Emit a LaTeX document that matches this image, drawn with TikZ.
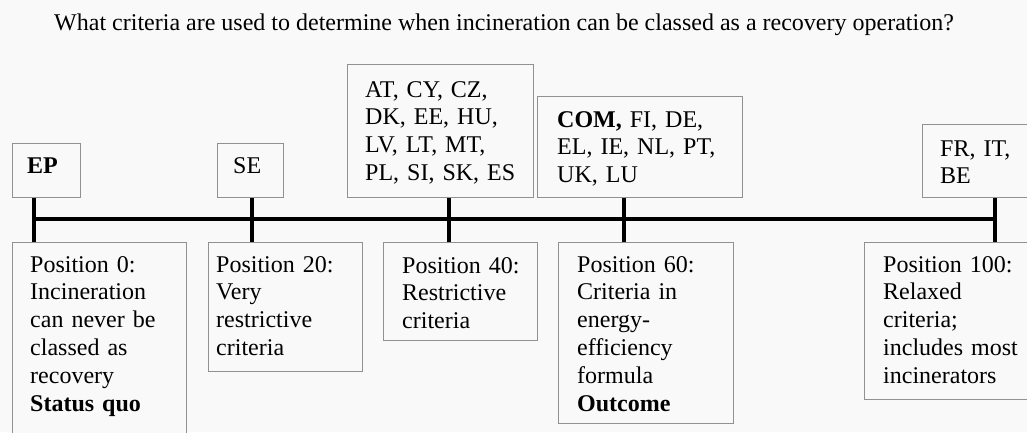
\documentclass[tikz,border=0pt]{standalone}
\usepackage{fontspec}
\setmainfont{Liberation Serif}
\definecolor{paper}{RGB}{249,249,249}
\definecolor{boxline}{RGB}{145,145,145}
\tikzstyle{box}=[draw=boxline, fill=paper, line width=1pt, inner sep=0pt, anchor=north west]
\tikzstyle{box text}=[anchor=base west, inner sep=0pt, text width=200pt, align=left, font=\fontsize{24}{27.8}\selectfont]
\tikzstyle{tick}=[line width=4pt]

\begin{document}
\begin{tikzpicture}[x=1pt, y=-1pt]
  \fill[paper] (0,0) rectangle (1027,432);
  \useasboundingbox (0,0) rectangle (1027,432);
  \clip (0,0) rectangle (1027,432);
  \node[anchor=base, inner sep=0pt, font=\fontsize{24}{28}\selectfont] (question) at (504,30)
    {What criteria are used to determine when incineration can be classed as a recovery operation?};

  % points on the scale
  \coordinate (p0) at (34,219);
  \coordinate (p20) at (252,219);
  \coordinate (p40) at (449,219);
  \coordinate (p60) at (624,219);
  \coordinate (p100) at (995,219);

  % countries above the scale
  \node[box, minimum width=68pt, minimum height=54pt] (ep) at (12,143) {};
  \node[box, minimum width=66pt, minimum height=54pt] (se) at (217,143) {};
  \node[box, minimum width=186pt, minimum height=133pt] (at) at (347,64) {};
  \node[box, minimum width=205pt, minimum height=101pt] (com) at (537,96) {};
  \node[box, minimum width=120pt, minimum height=73pt] (fr) at (922,124) {};
  \node[box text] at (27,173) {\textbf{EP}};
  \node[box text] at (233,173) {SE};
  \node[box text] at (365,97) {AT, CY, CZ,\\ DK, EE, HU,\\ LV, LT, MT,\\ PL, SI, SK, ES};
  \node[box text] at (557,127) {\textbf{COM,} FI, DE,\\ EL, IE, NL, PT,\\ UK, LU};
  \node[box text] at (940,156) {FR, IT,\\ BE};

  % positions below the scale
  \node[box, minimum width=174pt, minimum height=200pt] (pos0) at (12,242) {};
  \node[box, minimum width=154pt, minimum height=129pt] (pos20) at (208,242) {};
  \node[box, minimum width=154pt, minimum height=98pt] (pos40) at (383,242) {};
  \node[box, minimum width=175pt, minimum height=181pt] (pos60) at (558,242) {};
  \node[box, minimum width=175pt, minimum height=157pt] (pos100) at (864,242) {};
  \node[box text] at (30,272) {Position 0:\\ Incineration\\ can never be\\ classed as\\ recovery\\ \textbf{Status quo}};
  \node[box text] at (216,272) {Position 20:\\ Very\\ restrictive\\ criteria};
  \node[box text] at (402,273) {Position 40:\\ Restrictive\\ criteria};
  \node[box text] at (577,272) {Position 60:\\ Criteria in\\ energy-\\ efficiency\\ formula\\ \textbf{Outcome}};
  \node[box text] at (883,272) {Position 100:\\ Relaxed\\ criteria;\\ includes most\\ incinerators};

  % the scale
  \draw[tick] (p0) -- (p100);
  \draw[tick] (ep.south -| p0) -- (pos0.north -| p0);
  \draw[tick] (se.south -| p20) -- (pos20.north -| p20);
  \draw[tick] (at.south -| p40) -- (pos40.north -| p40);
  \draw[tick] (com.south -| p60) -- (pos60.north -| p60);
  \draw[tick] (fr.south -| p100) -- (pos100.north -| p100);
\end{tikzpicture}
\end{document}
